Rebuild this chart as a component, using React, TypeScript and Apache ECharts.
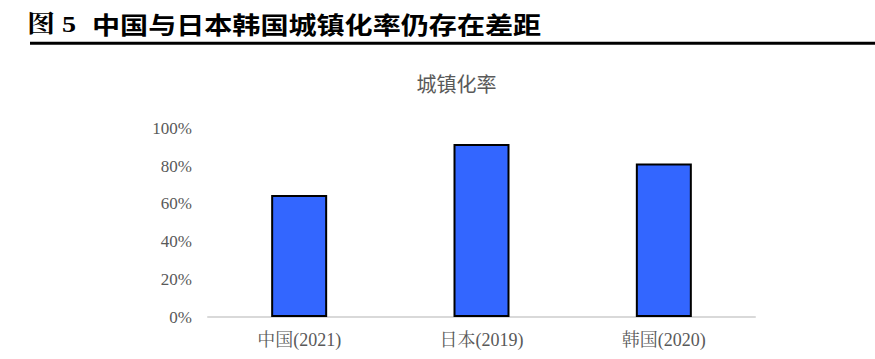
import React, { useEffect, useRef } from 'react';
import * as echarts from 'echarts';

const categories = ['中国(2021)', '日本(2019)', '韩国(2020)'];
const urbanRate = [64.72, 91.8, 81.4];
const yTicks = [0, 20, 40, 60, 80, 100];
const headerLabel = '图 5';
const headerText = '中国与日本韩国城镇化率仍存在差距';
const chartTitle = '城镇化率';

const SERIF = "'Liberation Serif', 'Noto Serif CJK SC', 'Noto Sans CJK SC', serif";
const CJK = "'Noto Sans CJK SC', sans-serif";

export default function App() {
  const ref = useRef<HTMLDivElement>(null);
  useEffect(() => {
    const chart = echarts.init(ref.current!, null, { renderer: 'svg' });
    chart.setOption({
      animation: false,
      backgroundColor: '#ffffff',
      grid: { left: 208, right: 120, top: 128.5, bottom: 42, containLabel: false, outerBoundsMode: 'none' },
      xAxis: {
        type: 'category',
        data: categories,
        axisLine: { show: true, lineStyle: { color: '#d9d9d9', width: 2 } },
        axisTick: { show: false },
        axisLabel: { margin: 14, fontSize: 18, color: '#595959', fontFamily: SERIF },
        splitLine: { show: false },
      },
      yAxis: {
        type: 'value',
        min: yTicks[0],
        max: yTicks[yTicks.length - 1],
        interval: yTicks[1] - yTicks[0],
        splitLine: { show: false },
        axisLine: { show: false },
        axisTick: { show: false },
        axisLabel: { formatter: '{value}%', margin: 16, fontSize: 17, color: '#595959', fontFamily: SERIF },
      },
      series: [
        {
          type: 'bar',
          data: urbanRate,
          barWidth: 56,
          itemStyle: { color: '#3366ff', borderColor: '#000000', borderWidth: 2 },
        },
      ],
      graphic: [
        {
          type: 'text',
          x: 27,
          y: 24,
          scaleX: 1.17,
          style: {
            text: headerLabel,
            font: `bold 24px ${SERIF}`,
            fill: '#000000',
            textVerticalAlign: 'middle',
          },
        },
        {
          type: 'text',
          x: 92,
          y: 24,
          scaleX: 1.17,
          style: {
            text: headerText,
            font: `bold 24px ${CJK}`,
            fill: '#000000',
            textVerticalAlign: 'middle',
          },
        },
        {
          type: 'line',
          shape: { x1: 30, y1: 43.3, x2: 875, y2: 43.3 },
          style: { stroke: '#000000', lineWidth: 3 },
        },
        {
          type: 'text',
          x: 456.5,
          y: 83,
          style: {
            text: chartTitle,
            font: `20px ${CJK}`,
            fill: '#595959',
            textAlign: 'center',
            textVerticalAlign: 'middle',
          },
        },
      ],
    });
    return () => chart.dispose();
  }, []);
  return (
    <div
      ref={ref}
      style={{ position: 'absolute', left: 0, top: 0, width: 875, height: 359 }}
    />
  );
}
